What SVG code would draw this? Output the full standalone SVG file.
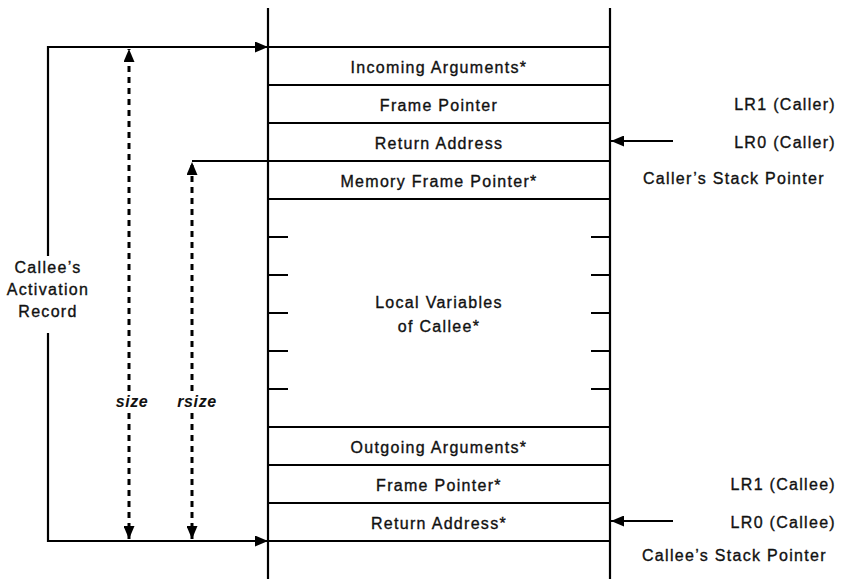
<svg xmlns="http://www.w3.org/2000/svg" width="844" height="579" viewBox="0 0 844 579">
<defs>
<marker id="ah" viewBox="0 0 13 11" refX="13" refY="5.5" markerWidth="13" markerHeight="11" markerUnits="userSpaceOnUse" orient="auto">
<path d="M0,0 L13,5.5 L0,11 Z" fill="#000"/>
</marker>
</defs>
<style>
.t{font-family:"Liberation Sans",Arial,sans-serif;font-size:16px;letter-spacing:1.3px;fill:#111;stroke:#111;stroke-width:0.35;}
.c{text-anchor:middle;}
.r{text-anchor:end;}
.i{font-style:italic;font-weight:bold;letter-spacing:0.6px;stroke-width:0;}
.ln{stroke:#000;stroke-width:2.2;fill:none;}
.ds{stroke:#000;stroke-width:3;fill:none;stroke-dasharray:6 5;}
</style>
<rect width="844" height="579" fill="#fff"/>
<g id="stack">
<line class="ln" x1="268" y1="8" x2="268" y2="579"/>
<line class="ln" x1="610" y1="8" x2="610" y2="579"/>
<line class="ln" x1="268" y1="47" x2="610" y2="47"/>
<line class="ln" x1="268" y1="85" x2="610" y2="85"/>
<line class="ln" x1="268" y1="123" x2="610" y2="123"/>
<line class="ln" x1="268" y1="161" x2="610" y2="161"/>
<line class="ln" x1="268" y1="199" x2="610" y2="199"/>
<line class="ln" x1="268" y1="427" x2="610" y2="427"/>
<line class="ln" x1="268" y1="465" x2="610" y2="465"/>
<line class="ln" x1="268" y1="503" x2="610" y2="503"/>
<line class="ln" x1="268" y1="541" x2="610" y2="541"/>
<path class="ln" d="M268,237h20M268,275h20M268,313h20M268,351h20M268,389h20M591,237h19M591,275h19M591,313h19M591,351h19M591,389h19"/>
</g>
<g id="n-incoming"><text class="t c" x="439" y="73">Incoming Arguments*</text></g>
<g id="n-fp1"><text class="t c" x="439" y="111">Frame Pointer</text></g>
<g id="n-ra1"><text class="t c" x="439" y="149">Return Address</text></g>
<g id="n-mfp"><text class="t c" x="439" y="187">Memory Frame Pointer*</text></g>
<g id="n-local"><text class="t c" x="439" y="308">Local Variables</text><text class="t c" x="439" y="332">of Callee*</text></g>
<g id="n-outgoing"><text class="t c" x="439" y="453">Outgoing Arguments*</text></g>
<g id="n-fp2"><text class="t c" x="439" y="491">Frame Pointer*</text></g>
<g id="n-ra2"><text class="t c" x="439" y="529">Return Address*</text></g>
<g id="n-lr1caller"><text class="t r" x="836" y="110">LR1 (Caller)</text></g>
<g id="n-lr0caller"><text class="t r" x="836" y="148">LR0 (Caller)</text></g>
<g id="n-callersp"><text class="t" x="643" y="184">Caller’s Stack Pointer</text></g>
<g id="n-lr1callee"><text class="t r" x="836" y="490">LR1 (Callee)</text></g>
<g id="n-lr0callee"><text class="t r" x="836" y="528">LR0 (Callee)</text></g>
<g id="n-calleesp"><text class="t" x="642" y="561">Callee’s Stack Pointer</text></g>
<g id="n-record"><text class="t c" x="48" y="273">Callee’s</text><text class="t c" x="48" y="295">Activation</text><text class="t c" x="48" y="317">Record</text></g>
<g id="n-size"><text class="t c i" x="132" y="407">size</text></g>
<g id="n-rsize"><text class="t c i" x="197" y="407">rsize</text></g>
<g id="connectors">
<line class="ln" x1="48" y1="46" x2="48" y2="256"/>
<line class="ln" x1="48" y1="333" x2="48" y2="542"/>
<line class="ln" x1="47" y1="47" x2="268" y2="47" marker-end="url(#ah)"/>
<line class="ln" x1="47" y1="541" x2="268" y2="541" marker-end="url(#ah)"/>
<line class="ds" x1="129" y1="391" x2="129" y2="49" marker-end="url(#ah)"/>
<line class="ds" x1="129" y1="413" x2="129" y2="539" marker-end="url(#ah)"/>
<line class="ln" x1="192" y1="161" x2="268" y2="161"/>
<line class="ds" x1="192" y1="391" x2="192" y2="162" marker-end="url(#ah)"/>
<line class="ds" x1="192" y1="413" x2="192" y2="539" marker-end="url(#ah)"/>
<line class="ln" x1="673" y1="141" x2="611" y2="141" marker-end="url(#ah)"/>
<line class="ln" x1="673" y1="521" x2="611" y2="521" marker-end="url(#ah)"/>
</g>
</svg>
